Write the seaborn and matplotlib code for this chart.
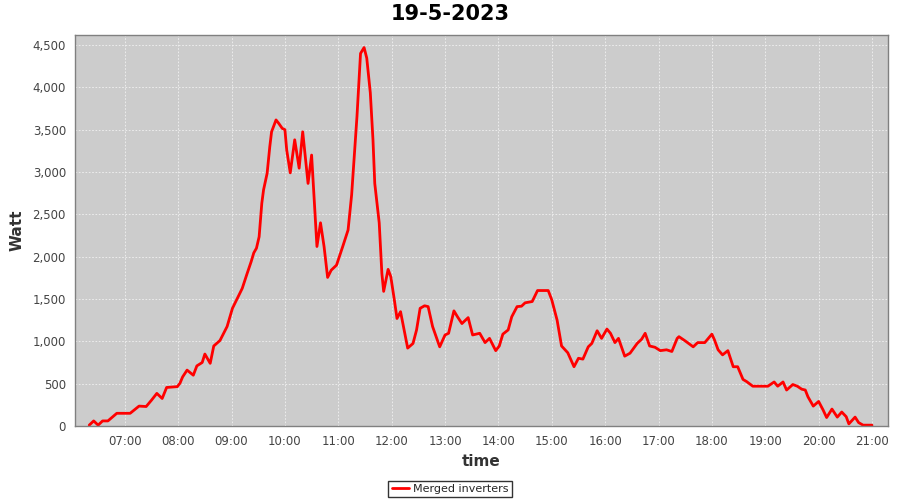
import pandas as pd
import numpy as np
import matplotlib
matplotlib.use("Agg")
import matplotlib.pyplot as plt
import matplotlib.dates as mdates
from matplotlib.ticker import FuncFormatter
import seaborn as sns

# readings of the merged inverters, 19-5-2023
times = ["06:20", "06:25", "06:30", "06:35", "06:41", "06:51", "07:06", "07:16", "07:24", "07:30",
         "07:36", "07:42", "07:47", "07:59", "08:02", "08:05", "08:10", "08:17", "08:21", "08:27",
         "08:30", "08:36", "08:40", "08:47", "08:55", "09:01", "09:12", "09:17", "09:22", "09:25",
         "09:28", "09:31", "09:34", "09:36", "09:40", "09:43", "09:45", "09:50", "09:53", "09:57",
         "10:00", "10:02", "10:06", "10:11", "10:16", "10:20", "10:26", "10:30", "10:36", "10:40",
         "10:44", "10:48", "10:52", "10:58", "11:05", "11:11", "11:15", "11:21", "11:25", "11:29",
         "11:32", "11:36", "11:39", "11:41", "11:46", "11:49", "11:51", "11:56", "11:59", "12:03",
         "12:06", "12:10", "12:14", "12:18", "12:24", "12:28", "12:32", "12:37", "12:41", "12:46",
         "12:54", "13:00", "13:04", "13:10", "13:14", "13:19", "13:26", "13:31", "13:39", "13:45",
         "13:50", "13:57", "14:01", "14:05", "14:11", "14:15", "14:21", "14:26", "14:30", "14:38",
         "14:44", "14:56", "15:00", "15:06", "15:11", "15:18", "15:25", "15:30", "15:35", "15:41",
         "15:45", "15:51", "15:56", "16:02", "16:06", "16:11", "16:15", "16:22", "16:28", "16:36",
         "16:41", "16:45", "16:50", "16:56", "17:02", "17:09", "17:15", "17:21", "17:23", "17:30",
         "17:39", "17:44", "17:52", "18:00", "18:03", "18:07", "18:12", "18:18", "18:24", "18:29",
         "18:35", "18:39", "18:46", "19:03", "19:10", "19:14", "19:20", "19:24", "19:31", "19:36",
         "19:41", "19:45", "19:48", "19:54", "20:00", "20:05", "20:09", "20:15", "20:21", "20:26",
         "20:31", "20:34", "20:41", "20:45", "20:50", "21:00"]
watt = [10, 60, 10, 60, 60, 150, 150, 235, 230, 305,
        385, 325, 455, 465, 505, 580, 660, 600, 710, 750,
        850, 740, 945, 1010, 1175, 1390, 1625, 1785, 1940, 2045,
        2100, 2235, 2630, 2790, 2985, 3300, 3475, 3615, 3575, 3515,
        3500, 3260, 2990, 3380, 3045, 3475, 2865, 3200, 2120, 2400,
        2120, 1755, 1840, 1900, 2120, 2315, 2730, 3655, 4400, 4470,
        4345, 3935, 3380, 2865, 2400, 1800, 1590, 1850, 1765, 1490,
        1270, 1350, 1135, 920, 975, 1135, 1390, 1420, 1410, 1175,
        935, 1075, 1095, 1360, 1290, 1210, 1280, 1075, 1095, 985,
        1035, 890, 945, 1085, 1135, 1290, 1410, 1415, 1455, 1470,
        1600, 1600, 1490, 1250, 945, 865, 700, 800, 790, 935,
        975, 1125, 1035, 1145, 1095, 985, 1035, 825, 860, 975,
        1025, 1095, 945, 930, 890, 900, 880, 1035, 1055, 1005,
        935, 985, 985, 1085, 1015, 900, 840, 890, 700, 700,
        550, 525, 470, 470, 520, 470, 520, 425, 490, 470,
        435, 425, 345, 235, 290, 190, 100, 200, 105, 165,
        110, 25, 105, 40, 10, 10]
series_name = "Merged inverters"
chart_title = "19-5-2023"

df = pd.DataFrame({
    "time": pd.to_datetime(["2023-05-19 " + t for t in times]),
    "Watt": watt,
    "series": series_name,
})

sns.set_style("white")
plt.rcParams["font.family"] = ["DejaVu Sans"]

fig = plt.figure(figsize=(9, 5), dpi=100)
ax = fig.add_axes([75 / 900, 1 - 426 / 500, (888 - 75) / 900, (426 - 35) / 500])
ax.set_facecolor("#cccccc")

sns.lineplot(data=df, x="time", y="Watt", hue="series", palette=["#ff0000"],
             linewidth=2, ax=ax, legend=False)

ax.set_xlim(pd.Timestamp("2023-05-19 06:04"), pd.Timestamp("2023-05-19 21:18"))
ax.set_ylim(0, 4618)
ax.set_yticks(np.arange(0, 4501, 500))
ax.yaxis.set_major_formatter(FuncFormatter(lambda v, p: f"{v:,.0f}"))
ax.xaxis.set_major_locator(mdates.HourLocator(byhour=range(7, 22)))
ax.xaxis.set_major_formatter(mdates.DateFormatter("%H:%M"))

ax.grid(True, color="#f2f2f2", linestyle=(0, (2, 2)), linewidth=0.6)
for s in ax.spines.values():
    s.set_color("#808080")
    s.set_linewidth(1)
ax.tick_params(axis="both", labelsize=8.5, colors="#444444", length=3, width=0.8,
               color="#999999", direction="out")

ax.set_xlabel("time", fontsize=11, fontweight="bold", color="#333333", labelpad=4)
ax.set_ylabel("Watt", fontsize=11, fontweight="bold", color="#333333", labelpad=6)
fig.suptitle(chart_title, fontsize=15, fontweight="bold", color="black", y=0.992)

handle = plt.Line2D([], [], color="#ff0000", linewidth=2)
leg = fig.legend([handle], [series_name], loc="lower center", bbox_to_anchor=(0.5, 0.0),
                 frameon=True, fancybox=False, fontsize=8, handlelength=1.6,
                 handletextpad=0.3, borderpad=0.3, borderaxespad=0.25)
leg.get_frame().set_edgecolor("black")
leg.get_frame().set_linewidth(1)

fig.savefig("out.png", dpi=100)
